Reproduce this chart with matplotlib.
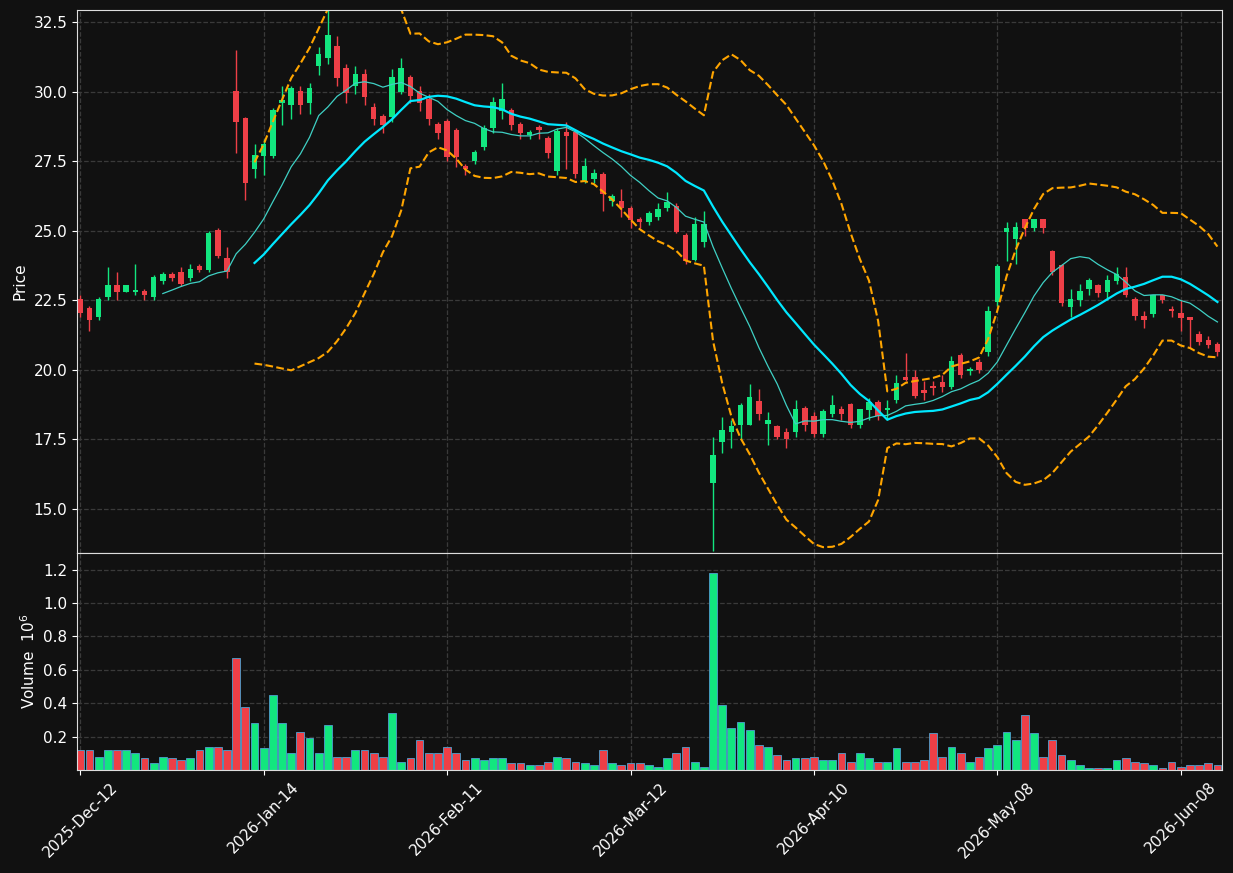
import numpy as np
import pandas as pd
import matplotlib
matplotlib.use("Agg")
import matplotlib.pyplot as plt

opens = [22.5,22.2,21.9,22.6,23.0,22.8,22.8,22.8,22.6,23.2,23.4,23.5,23.3,23.7,23.6,25.0,24.0,30.0,29.0,27.2,
         27.7,27.7,29.6,29.5,30.0,29.6,30.9,31.2,31.6,30.8,30.2,30.6,29.4,29.1,29.1,30.0,30.5,30.0,29.7,28.8,
         28.9,28.6,27.3,27.5,28.0,28.7,29.3,29.3,28.8,28.45,28.7,28.3,27.15,28.5,28.5,26.75,26.85,27.0,26.05,26.05,
         25.8,25.4,25.3,25.5,25.8,25.85,24.8,23.95,24.6,15.95,17.4,17.75,18.0,18.0,18.85,18.05,17.95,17.75,17.75,18.6,
         18.3,17.7,18.4,18.55,18.75,18.0,18.55,18.8,18.55,18.9,19.7,19.7,19.25,19.4,19.55,19.4,20.5,19.95,20.25,20.65,
         22.45,24.95,24.7,25.4,25.1,25.4,24.25,23.75,22.25,22.5,22.9,23.0,22.8,23.2,23.3,22.5,21.9,22.0,22.65,22.15,
         22.0,21.85,21.25,21.05,20.9]
closes = [22.05,21.8,22.5,23.0,22.8,23.0,22.85,22.7,23.3,23.4,23.3,23.1,23.6,23.6,24.9,24.1,23.5,28.9,26.7,27.7,
          28.1,29.3,29.65,30.1,29.5,30.1,31.3,32.0,30.5,29.95,30.6,29.8,29.0,28.8,30.5,30.8,29.85,29.6,29.0,28.5,
          27.65,27.65,27.2,27.8,28.65,29.6,29.7,28.8,28.5,28.5,28.6,27.8,28.55,28.4,27.05,27.3,27.05,26.3,26.2,25.8,
          25.4,25.3,25.6,25.75,26.0,24.95,23.9,25.2,25.2,16.9,17.8,17.95,18.7,19.0,18.4,18.15,17.6,17.5,18.55,18.0,
          17.7,18.5,18.7,18.4,18.0,18.55,18.8,18.35,18.6,19.5,19.65,19.05,19.15,19.35,19.4,20.3,19.8,20.0,20.0,22.1,
          23.7,25.05,25.1,25.1,25.4,25.1,23.5,22.4,22.5,22.8,23.2,22.75,23.2,23.4,22.7,21.95,21.8,22.65,22.5,22.1,
          21.85,21.8,21.0,20.9,20.65]
highs = [22.7,22.3,22.6,23.7,23.5,23.05,23.8,22.9,23.4,23.5,23.5,23.7,23.8,23.8,25.0,25.1,24.4,31.5,29.1,28.1,
         28.3,29.4,30.2,30.2,30.2,30.3,31.6,33.0,32.0,31.0,30.9,30.8,29.6,29.2,30.8,31.2,30.6,30.2,29.9,28.9,
         29.0,28.7,27.4,27.9,28.8,29.8,30.3,29.4,28.9,28.6,28.8,28.4,28.7,28.9,28.6,27.6,27.2,27.1,26.3,26.5,
         25.9,25.5,25.7,26.0,26.4,26.0,24.9,25.5,25.7,17.6,18.3,18.2,18.8,19.5,19.3,18.5,18.0,17.9,18.9,18.7,
         18.5,18.6,19.1,18.7,18.8,18.6,19.0,18.9,18.9,19.8,20.6,20.0,19.6,19.6,19.8,20.5,20.6,20.1,20.4,22.3,
         23.8,25.3,25.3,25.4,25.4,25.4,24.3,23.8,22.9,23.1,23.3,23.1,23.4,23.7,23.7,22.6,22.1,22.7,22.7,22.3,
         22.5,21.9,21.4,21.2,21.0]
lows = [21.9,21.4,21.8,22.5,22.5,22.8,22.7,22.5,22.5,23.1,23.2,23.0,23.2,23.5,23.5,24.0,23.3,27.8,26.1,26.9,
        27.0,27.6,28.8,29.0,29.2,29.2,30.6,31.0,30.2,29.6,29.9,29.5,28.8,28.5,28.9,29.9,29.6,29.3,28.8,28.3,
        27.5,27.3,27.0,27.4,27.9,28.5,29.0,28.6,28.3,28.3,28.3,27.6,27.0,27.2,26.9,26.7,26.7,25.7,25.9,25.5,
        25.1,25.1,25.2,25.4,25.7,24.9,23.8,23.9,24.4,13.5,17.0,17.2,17.5,18.0,18.2,17.3,17.5,17.2,17.6,17.8,
        17.6,17.6,18.3,18.2,17.9,17.9,18.2,18.2,18.2,18.8,19.6,19.0,18.9,19.1,19.2,19.3,19.7,19.8,19.9,20.5,
        22.3,23.9,23.8,24.8,25.0,24.9,23.4,22.3,21.9,22.3,22.7,22.6,22.5,23.1,22.6,21.8,21.5,21.9,22.4,21.9,
        21.4,20.8,20.9,20.8,20.5]
volumes = [0.12,0.12,0.08,0.12,0.12,0.12,0.10,0.07,0.04,0.08,0.07,0.06,0.07,0.12,0.14,0.14,0.12,0.67,0.38,0.28,
           0.13,0.45,0.28,0.10,0.23,0.19,0.10,0.27,0.08,0.08,0.12,0.12,0.10,0.08,0.34,0.05,0.07,0.18,0.10,0.10,
           0.14,0.10,0.06,0.07,0.06,0.07,0.07,0.04,0.04,0.03,0.03,0.05,0.08,0.07,0.05,0.04,0.03,0.12,0.04,0.03,
           0.04,0.04,0.03,0.02,0.07,0.10,0.14,0.05,0.02,1.18,0.39,0.25,0.29,0.24,0.15,0.14,0.09,0.06,0.07,0.07,
           0.08,0.06,0.06,0.10,0.05,0.10,0.07,0.05,0.05,0.13,0.05,0.05,0.06,0.22,0.08,0.14,0.10,0.05,0.08,0.13,
           0.15,0.23,0.18,0.33,0.22,0.08,0.18,0.09,0.06,0.03,0.01,0.01,0.01,0.06,0.07,0.05,0.04,0.03,0.01,0.05,
           0.02,0.03,0.03,0.04,0.03]
tick_pos = [0, 20, 40, 60, 80, 100, 120]
tick_labels = ["2025-Dec-12", "2026-Jan-14", "2026-Feb-11", "2026-Mar-12", "2026-Apr-10", "2026-May-08", "2026-Jun-08"]

BG = "#111111"
UP = "#12e67f"
DN = "#ee3f47"
n = len(closes)
x = np.arange(n)
o = np.array(opens); c = np.array(closes); h = np.array(highs); l = np.array(lows)
up = c >= o
cols = np.where(up, UP, DN)

s = pd.Series(c)
ma10 = s.rolling(10).mean()
ma20 = s.rolling(20).mean()
sd20 = s.rolling(20).std(ddof=0)
bu = ma20 + 2 * sd20
bl = ma20 - 2 * sd20

fig = plt.figure(figsize=(12.33, 8.73), dpi=100, facecolor=BG)
ax = fig.add_axes([0.0625, 0.3666, 0.9286, 0.622])
axv = fig.add_axes([0.0625, 0.118, 0.9286, 0.2486], sharex=ax)

for a in (ax, axv):
    a.set_facecolor(BG)
    for sp in a.spines.values():
        sp.set_color("#dddddd")
    a.grid(True, color="#3a3a3a", linestyle="--", linewidth=0.9)
    a.tick_params(colors="white", labelsize=11)
    a.set_axisbelow(True)

ax.vlines(x, l, h, color=cols, linewidth=1)
ax.bar(x, np.abs(c - o) + 0.03, bottom=np.minimum(o, c), width=0.6, color=cols, linewidth=0)
ax.plot(x, ma10, color="#3fd0c4", linewidth=0.9)
ax.plot(x, ma20, color="#00e8ff", linewidth=1.6)
ax.plot(x, bu, color="#ffa500", linestyle="--", linewidth=1.5)
ax.plot(x, bl, color="#ffa500", linestyle="--", linewidth=1.5)
ax.set_ylim(13.42, 32.93)
ax.set_xlim(-0.35, 124.5)
ax.set_yticks([15.0, 17.5, 20.0, 22.5, 25.0, 27.5, 30.0, 32.5])
ax.set_ylabel("Price", color="white", fontsize=11)
plt.setp(ax.get_xticklabels(), visible=False)

axv.bar(x, volumes, width=0.85, color=cols, edgecolor="#4fa0d0", linewidth=0.6)
axv.set_ylim(0, 1.30)
axv.set_yticks([0.2, 0.4, 0.6, 0.8, 1.0, 1.2])
axv.set_ylabel("Volume  $10^6$", color="white", fontsize=11)
axv.set_xticks(tick_pos)
axv.set_xticklabels(tick_labels, rotation=45, ha="center")

fig.savefig("out.png", dpi=100, facecolor=BG)
